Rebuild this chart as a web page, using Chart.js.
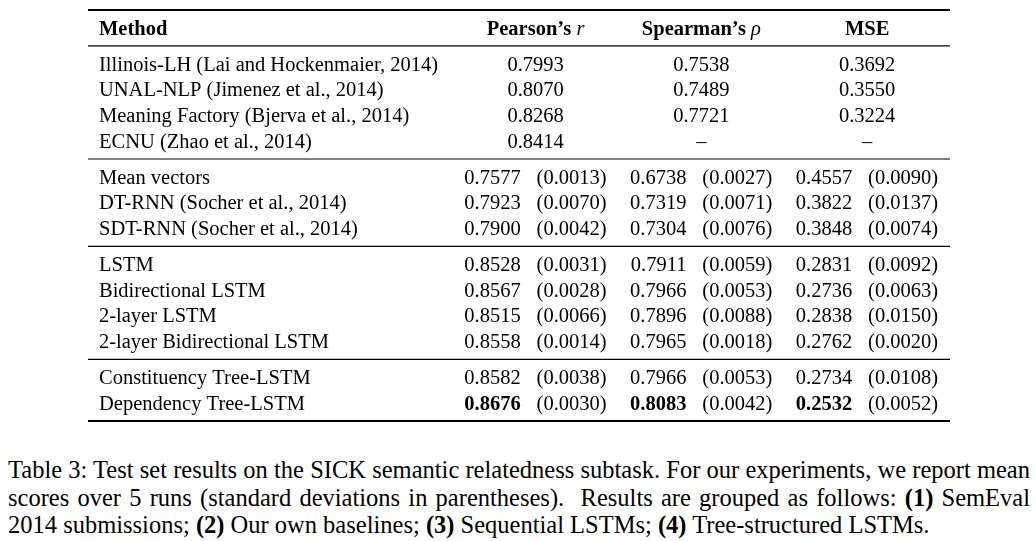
<!DOCTYPE html>
<html lang="en">
<head>
<meta charset="UTF-8">
<title>Table 3: SICK semantic relatedness</title>
<script src="https://cdn.jsdelivr.net/npm/chart.js@4.4.1/dist/chart.umd.min.js"></script>
<style>
  html, body { margin: 0; padding: 0; background: #fff; }
  #wrap { position: relative; width: 1036px; height: 541px; overflow: hidden; }
  #table { position: absolute; left: 0; top: 0; }
  #caption {
    position: absolute; left: 8px; top: 456px; width: 1024px;
    font-family: "Liberation Serif", "Times New Roman", serif;
    font-size: 24.5px; line-height: 27.6px; color: #000;
  }
  #caption b { font-family: "Liberation Serif", "Times New Roman", serif; }
  #caption .j { text-align: justify; text-align-last: justify; width: 1022px; }
</style>
</head>
<body>
<div id="wrap">
  <canvas id="table" width="1036" height="440"></canvas>
  <div id="caption">
    <div class="j">Table 3: Test set results on the SICK semantic relatedness subtask. For our experiments, we report mean</div>
    <div class="j">scores over 5 runs (standard deviations in parentheses). &nbsp;Results are grouped as follows: <b>(1)</b> SemEval</div>
    <div>2014 submissions; <b>(2)</b> Our own baselines; <b>(3)</b> Sequential LSTMs; <b>(4)</b> Tree-structured LSTMs.</div>
  </div>
</div>

<script>
// table data
const headers = ['Pearson’s ', 'Spearman’s ', 'MSE'];
const headerSymbols = ['r', 'ρ', ''];
const methods = [
  'Illinois-LH (Lai and Hockenmaier, 2014)',
  'UNAL-NLP (Jimenez et al., 2014)',
  'Meaning Factory (Bjerva et al., 2014)',
  'ECNU (Zhao et al., 2014)',
  'Mean vectors',
  'DT-RNN (Socher et al., 2014)',
  'SDT-RNN (Socher et al., 2014)',
  'LSTM',
  'Bidirectional LSTM',
  '2-layer LSTM',
  '2-layer Bidirectional LSTM',
  'Constituency Tree-LSTM',
  'Dependency Tree-LSTM'
];
const groupSizes = [4, 3, 4, 2];
const pearson    = [0.7993, 0.8070, 0.8268, 0.8414, 0.7577, 0.7923, 0.7900, 0.8528, 0.8567, 0.8515, 0.8558, 0.8582, 0.8676];
const pearsonSd  = [null, null, null, null, 0.0013, 0.0070, 0.0042, 0.0031, 0.0028, 0.0066, 0.0014, 0.0038, 0.0030];
const spearman   = [0.7538, 0.7489, 0.7721, null, 0.6738, 0.7319, 0.7304, 0.7911, 0.7966, 0.7896, 0.7965, 0.7966, 0.8083];
const spearmanSd = [null, null, null, null, 0.0027, 0.0071, 0.0076, 0.0059, 0.0053, 0.0088, 0.0018, 0.0053, 0.0042];
const mse        = [0.3692, 0.3550, 0.3224, null, 0.4557, 0.3822, 0.3848, 0.2831, 0.2736, 0.2838, 0.2762, 0.2734, 0.2532];
const mseSd      = [null, null, null, null, 0.0090, 0.0137, 0.0074, 0.0092, 0.0063, 0.0150, 0.0020, 0.0108, 0.0052];

const FONT = '"Liberation Serif", "Times New Roman", serif';
const SIZE = 20.5;
const GROUP_GAP = 1.4;   // row units between groups
const METHOD_W = 2.2;    // method column width in metric-column units

// row positions (row units), header at 0
const rowPos = [];
const ruleAfter = [];
let p = 0;
groupSizes.forEach(n => {
  for (let i = 0; i < n; i++) {
    p += (i === 0) ? GROUP_GAP : 1;
    rowPos.push(p);
  }
  ruleAfter.push(p + GROUP_GAP / 2);
});

const cols = [
  { v: pearson, sd: pearsonSd, best: Math.max(...pearson.filter(x => x !== null)) },
  { v: spearman, sd: spearmanSd, best: Math.max(...spearman.filter(x => x !== null)) },
  { v: mse, sd: mseSd, best: Math.min(...mse.filter(x => x !== null)) }
];

function font(weight, style) {
  return `${style || 'normal'} ${weight} ${SIZE}px ${FONT}`;
}

const tablePlugin = {
  id: 'tableDraw',
  afterDraw(chart) {
    const { ctx, chartArea } = chart;
    const xs = chart.scales.x, ys = chart.scales.y;
    const unit = xs.getPixelForValue(1) - xs.getPixelForValue(0);
    const base = SIZE * 0.33;
    ctx.save();
    ctx.fillStyle = '#000';
    ctx.strokeStyle = '#000';

    // rules
    const rule = (v, w) => {
      const y = ys.getPixelForValue(v);
      ctx.lineWidth = w;
      ctx.beginPath();
      ctx.moveTo(chartArea.left, y);
      ctx.lineTo(chartArea.right, y);
      ctx.stroke();
    };
    rule(-GROUP_GAP / 2, 2);
    rule(GROUP_GAP / 2, 1.2);
    ruleAfter.forEach((v, i) => rule(v, i === ruleAfter.length - 1 ? 2 : 1.2));

    ctx.textBaseline = 'alphabetic';
    const methodX = xs.getPixelForValue(0) + 11;

    // header
    const hy = ys.getPixelForValue(0) + base;
    ctx.textAlign = 'left';
    ctx.font = font('bold');
    ctx.fillText('Method', methodX, hy);
    headers.forEach((h, c) => {
      const cx = xs.getPixelForValue(METHOD_W + 0.5 + c);
      ctx.font = font('bold');
      const w1 = ctx.measureText(h).width;
      ctx.font = font('normal', 'italic');
      const w2 = ctx.measureText(headerSymbols[c]).width;
      const x0 = cx - (w1 + w2) / 2;
      ctx.font = font('bold');
      ctx.fillText(h, x0, hy);
      ctx.font = font('normal', 'italic');
      ctx.fillText(headerSymbols[c], x0 + w1, hy);
    });

    // body
    methods.forEach((m, r) => {
      const y = ys.getPixelForValue(rowPos[r]) + base;
      ctx.textAlign = 'left';
      ctx.font = font('normal');
      ctx.fillText(m, methodX, y);
      cols.forEach((col, c) => {
        const cx = xs.getPixelForValue(METHOD_W + 0.5 + c);
        const v = col.v[r], sd = col.sd[r];
        const txt = v === null ? '–' : v.toFixed(4);
        ctx.font = font(v === col.best ? 'bold' : 'normal');
        if (sd === null) {
          ctx.textAlign = 'center';
          ctx.fillText(txt, cx, y);
        } else {
          ctx.textAlign = 'right';
          ctx.fillText(txt, cx - 0.09 * unit, y);
          ctx.textAlign = 'left';
          ctx.font = font('normal');
          ctx.fillText('(' + sd.toFixed(4) + ')', cx + 0.006 * unit, y);
        }
      });
    });
    ctx.restore();
  }
};

new Chart(document.getElementById('table'), {
  type: 'scatter',
  data: { datasets: [] },
  options: {
    responsive: false,
    animation: false,
    layout: { padding: { left: 88, right: 86, top: 10, bottom: 19 } },
    plugins: { legend: { display: false }, tooltip: { enabled: false } },
    scales: {
      x: { type: 'linear', min: 0, max: METHOD_W + headers.length, display: false },
      y: { type: 'linear', reverse: true, min: -GROUP_GAP / 2, max: rowPos[rowPos.length - 1] + GROUP_GAP / 2, display: false }
    }
  },
  plugins: [tablePlugin]
});
</script>
</body>
</html>
